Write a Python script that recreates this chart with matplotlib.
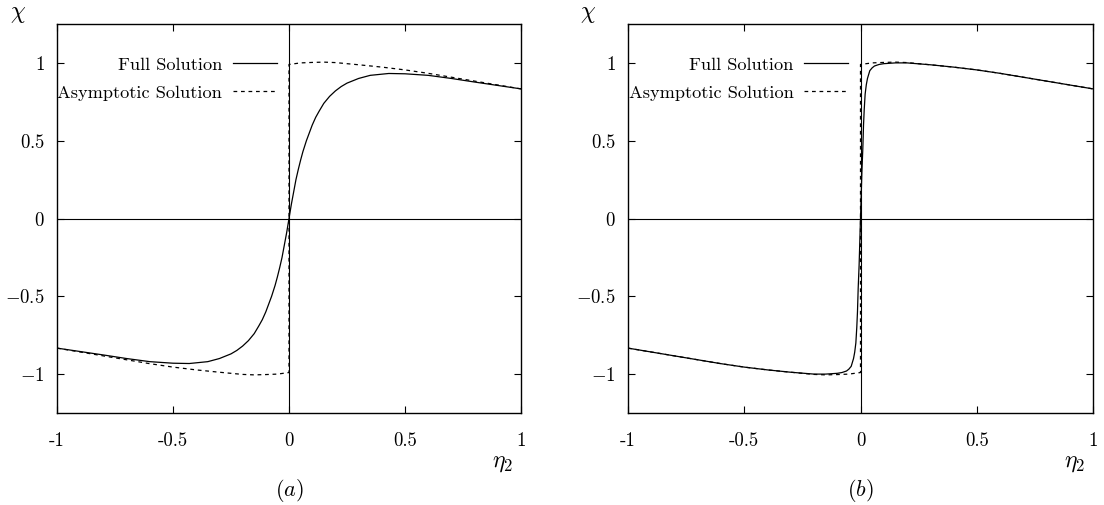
import numpy as np
import matplotlib
matplotlib.use("Agg")
import matplotlib.pyplot as plt

plt.rcParams["font.family"] = "cmr10"
plt.rcParams["mathtext.fontset"] = "cm"
plt.rcParams["axes.unicode_minus"] = False


#####################
### Data (eta >= 0 half; curves are odd in eta)
#####################
eta_asym = [0.0, 0.05, 0.1, 0.15, 0.2, 0.3, 0.4, 0.5, 0.6, 0.7, 0.8, 0.9, 1.0]
chi_asym = [0.99, 1.0, 1.003, 1.005, 1.002, 0.988, 0.973, 0.955, 0.933, 0.908, 0.883, 0.858, 0.833]

eta_full_a = [0.0, 0.01, 0.02, 0.03, 0.04, 0.05, 0.06, 0.075, 0.09, 0.1, 0.115, 0.13, 0.15,
              0.175, 0.2, 0.225, 0.25, 0.3, 0.35, 0.43, 0.5, 0.6, 0.7, 0.8, 0.9, 1.0]
chi_full_a = [0.0, 0.09, 0.17, 0.25, 0.315, 0.375, 0.43, 0.5, 0.56, 0.6, 0.65, 0.69, 0.74,
              0.785, 0.82, 0.848, 0.87, 0.9, 0.92, 0.932, 0.93, 0.92, 0.9, 0.877, 0.855, 0.833]

eta_full_b = [0.0, 0.003, 0.006, 0.01, 0.013, 0.016, 0.02, 0.025, 0.03, 0.04, 0.05, 0.06,
              0.08, 0.1, 0.15, 0.2, 0.3, 0.4, 0.5, 0.6, 0.7, 0.8, 0.9, 1.0]
chi_full_b = [0.0, 0.15, 0.3, 0.45, 0.6, 0.7, 0.8, 0.86, 0.9, 0.95, 0.968, 0.98,
              0.99, 0.995, 1.0, 1.0, 0.988, 0.973, 0.955, 0.933, 0.908, 0.883, 0.858, 0.833]

xticks = [-1, -0.5, 0, 0.5, 1]
xticklabels = ["-1", "-0.5", "0", "0.5", "1"]
yticks = [-1, -0.5, 0, 0.5, 1]
yticklabels = ["$-1$", "$-0.5$", "$0$", "$0.5$", "$1$"]
panels = ["$(a)$", "$(b)$"]


def odd(eta, chi):
    eta = np.asarray(eta)
    chi = np.asarray(chi)
    return np.concatenate([-eta[::-1], eta]), np.concatenate([-chi[::-1], chi])


#####################
### Plot
#####################
fig = plt.figure(figsize=(11.04, 5.05), dpi=100)
ax1 = fig.add_axes([57/1104, 92/505, 464/1104, 389/505])
ax2 = fig.add_axes([628/1104, 92/505, 465/1104, 389/505])

for ax, (ef, cf), lab in zip([ax1, ax2], [(eta_full_a, chi_full_a), (eta_full_b, chi_full_b)], panels):
    ax.axhline(0, color="black", lw=0.8)
    ax.axvline(0, color="black", lw=0.8)
    x, y = odd(ef, cf)
    ax.plot(x, y, color="black", lw=0.9, label="Full Solution")
    x, y = odd(eta_asym, chi_asym)
    ax.plot(x, y, color="black", lw=0.9, ls=(0, (3, 3)), label="Asymptotic Solution")
    ax.set_xlim(-1, 1)
    ax.set_ylim(-1.25, 1.25)
    ax.set_xticks(xticks)
    ax.set_xticklabels(xticklabels, fontsize=13.5)
    ax.set_yticks(yticks)
    ax.set_yticklabels(yticklabels, fontsize=13.5)
    ax.tick_params(direction="in", length=5, width=0.8, top=True, right=True)
    ax.tick_params(axis="x", pad=14)
    ax.tick_params(axis="y", pad=9)
    for s in ax.spines.values():
        s.set_linewidth(1.0)
    ax.legend(loc="upper right", bbox_to_anchor=(0.474, 0.915), markerfirst=False,
              frameon=False, fontsize=13.2, handlelength=2.4, handletextpad=0.6,
              labelspacing=0.65, borderpad=0, borderaxespad=0)
    ax.text(-0.085, 1.025, r"$\chi$", transform=ax.transAxes, fontsize=17,
            ha="center", va="center")
    ax.text(0.96, -0.128, r"$\eta_2$", transform=ax.transAxes, fontsize=17,
            ha="center", va="center")
    ax.text(0.5, -0.2, lab, transform=ax.transAxes, fontsize=16,
            ha="center", va="center")

plt.savefig("out.png", dpi=100)
